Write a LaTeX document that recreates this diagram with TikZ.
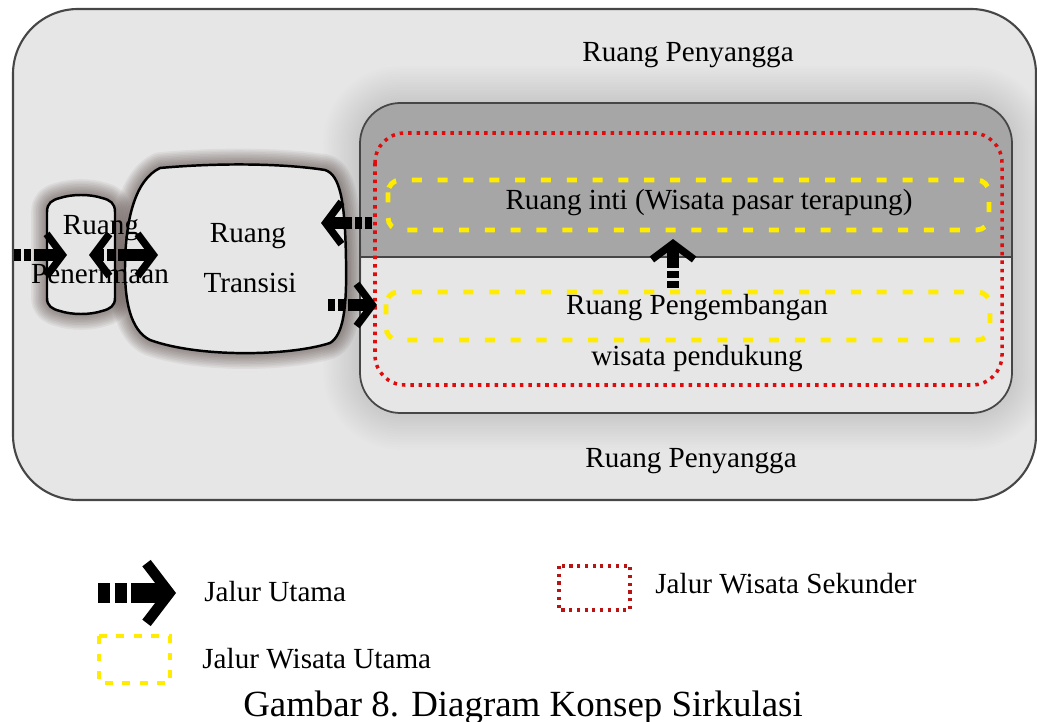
\documentclass[tikz,border=0pt]{standalone}
\usepackage{fontspec}
\setmainfont{Liberation Serif}
\usetikzlibrary{arrows.meta}
\definecolor{lantai}{RGB}{230,230,230}
\definecolor{inti}{RGB}{166,166,166}
\definecolor{garis}{RGB}{70,70,70}
\definecolor{merah}{RGB}{222,12,12}
\definecolor{merahtua}{RGB}{185,20,20}
\definecolor{kuning}{RGB}{255,236,0}
\definecolor{bayang}{RGB}{60,42,38}
\tikzset{
    teks/.style={font=\fontsize{16.6}{20}\selectfont, inner sep=0pt, anchor=base},
    teksL/.style={teks, anchor=base west},
    kepala/.tip={Straight Barb[length=9pt,width=24pt,line width=4.2pt]},
    kepalabesar/.tip={Straight Barb[length=13pt,width=34pt,line width=6pt]},
    jalur/.style={line width=7pt, dash pattern=on 4pt off 1.8pt on 4pt off 1.8pt on 80pt, -kepala},
    jalurdua/.style={jalur, kepala-kepala},
    jalurbesar/.style={line width=11pt, dash pattern=on 7pt off 2.5pt on 7pt off 2.5pt on 80pt, -kepalabesar},
    kuningbox/.style={draw=kuning, line width=2.8pt, dash pattern=on 5.7pt off 9pt, rounded corners=7pt},
    merahbox/.style={draw=merah, line width=2pt, dash pattern=on 2pt off 2.8pt, rounded corners=17pt},
    ruangshape/.style={fill=lantai, draw=black, line width=1.4pt}
}
\newcommand{\pathpen}{(47,212) .. controls (47,203) and (52,200) .. (60,198) .. controls (72,194) and (90,194) .. (102,198)
    .. controls (110,200) and (115,203) .. (115,212) -- (115,298) .. controls (115,306) and (110,309) .. (102,311)
    .. controls (90,315) and (72,315) .. (60,311) .. controls (52,309) and (47,306) .. (47,298) -- cycle}
\newcommand{\pathtrans}{(160,168) .. controls (215,163) and (280,163) .. (325,170) .. controls (340,175) and (345,200) .. (346,260)
    .. controls (347,310) and (343,335) .. (330,343) .. controls (290,356) and (200,358) .. (150,340)
    .. controls (130,330) and (125,300) .. (125,270) .. controls (125,220) and (135,180) .. (160,168) -- cycle}

\begin{document}
\begin{tikzpicture}[x=0.02cm,y=-0.02cm]
    \useasboundingbox (0,0) rectangle (1037,722);

    % ruang penyangga
    \draw[fill=lantai, draw=garis, line width=1.2pt, rounded corners=37pt] (13,9) rectangle (1036,500);

    % ruang inti dan pengembangan
    \foreach \i in {1,...,14}
        \draw[black, line width=\i*3pt, opacity=0.009, rounded corners=23pt] (360,103) rectangle (1012,413);
    \fill[lantai, rounded corners=23pt] (360,103) rectangle (1012,413);
    \begin{scope}
        \clip[rounded corners=23pt] (360,103) rectangle (1012,413);
        \fill[inti] (360,103) rectangle (1012,257);
    \end{scope}
    \draw[garis, line width=1pt] (360,257) -- (1012,257);
    \draw[garis, line width=1pt, rounded corners=23pt] (360,103) rectangle (1012,413);

    \draw[merahbox] (375,133) rectangle (1002,385);
    \draw[kuningbox] (388,180) rectangle (989,230);
    \draw[kuningbox] (386,292) rectangle (990,340);

    \node[teks] (penyangga1) at (688,62) {Ruang Penyangga};
    \node[teks] (penyangga2) at (691,467) {Ruang Penyangga};
    \node[teks] (inti) at (709,210) {Ruang inti (Wisata pasar terapung)};
    \node[teks] (kembang1) at (697,315) {Ruang Pengembangan};
    \node[teks] (kembang2) at (697,366) {wisata pendukung};

    % penerimaan dan transisi
    \foreach \i in {1,...,10}{
        \draw[bayang, line width=\i*1.8pt, opacity=0.06, line join=round] \pathpen;
        \draw[bayang, line width=\i*1.8pt, opacity=0.06, line join=round] \pathtrans;
    }
    \draw[ruangshape] \pathpen;
    \draw[ruangshape] \pathtrans;

    \node[teks] (terima1) at (101,235) {Ruang};
    \node[teks] (terima2) at (100,284) {Penerimaan};
    \node[teks] (transisi1) at (248,243) {Ruang};
    \node[teks] (transisi2) at (250,293) {Transisi};

    % jalur utama
    \coordinate (masuk) at (14,255);
    \coordinate (pintu) at (67,255);
    \coordinate (t1) at (89,255);
    \coordinate (t2) at (158,255);
    \coordinate (inti-out) at (372,223);
    \coordinate (trans-in) at (321,223);
    \coordinate (trans-out) at (328,305);
    \coordinate (kembang-in) at (377,305);
    \coordinate (naik1) at (673,288);
    \coordinate (naik2) at (673,239);
    \draw[jalur] (masuk) -- (pintu);
    \draw[jalurdua] (t1) -- (t2);
    \draw[jalur] (inti-out) -- (trans-in);
    \draw[jalur] (trans-out) -- (kembang-in);
    \draw[jalur] (naik1) -- (naik2);

    % legenda
    \coordinate (leg1) at (98,593);
    \coordinate (leg2) at (176,593);
    \draw[jalurbesar] (leg1) -- (leg2);
    \node[teksL] (ket1) at (204,601) {Jalur Utama};
    \draw[draw=kuning, line width=1.8pt, dash pattern=on 4.5pt off 5.5pt] (99,636) rectangle (170,683);
    \node[teksL] (ket2) at (202,668) {Jalur Wisata Utama};
    \draw[draw=merahtua, line width=1.8pt, dash pattern=on 1.8pt off 2.6pt] (559,566) rectangle (630,610);
    \node[teksL] (ket3) at (655,593) {Jalur Wisata Sekunder};

    \node[teks, font=\fontsize{21}{24}\selectfont] (judul) at (523,716) {Gambar 8. Diagram Konsep Sirkulasi};
\end{tikzpicture}
\end{document}
